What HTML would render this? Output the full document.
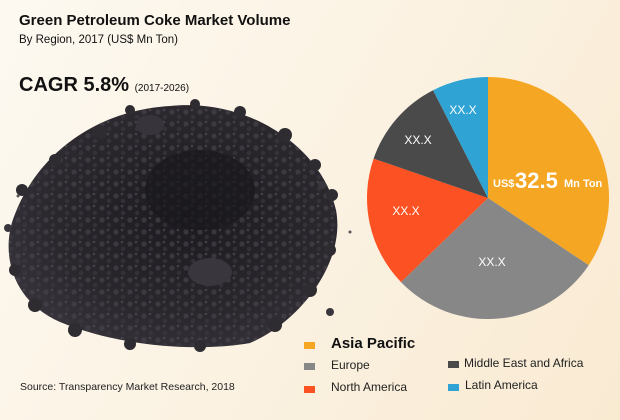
<!DOCTYPE html>
<html><head><meta charset="utf-8"><style>
html,body{margin:0;padding:0}
body{width:620px;height:420px;overflow:hidden;position:relative;font-family:"Liberation Sans",sans-serif;
background:linear-gradient(120deg,#fdf9f1 0%,#fbf2e2 50%,#f9ead2 100%);}
.t{position:absolute;white-space:nowrap;color:#111}
</style></head><body>
<svg width="620" height="420" style="position:absolute;left:0;top:0">
<defs>
<radialGradient id="cg" cx="0.55" cy="0.45" r="0.6">
<stop offset="0" stop-color="#1c1a1f"/><stop offset="0.7" stop-color="#2a272d"/><stop offset="1" stop-color="#36323a"/>
</radialGradient>
<pattern id="dots" width="14" height="12" patternUnits="userSpaceOnUse">
<circle cx="4" cy="4" r="2.6" fill="#4a464f"/><circle cx="11" cy="9" r="2.2" fill="#3e3a43"/><circle cx="10" cy="2" r="1.3" fill="#57535c"/>
</pattern>
</defs>
<path d="M170,106 C250,98 322,148 336,210 C346,262 300,322 250,343 C200,352 120,347 60,322 C10,300 0,250 15,214 C40,150 100,110 170,106 Z" fill="url(#cg)"/>
<path d="M170,106 C250,98 322,148 336,210 C346,262 300,322 250,343 C200,352 120,347 60,322 C10,300 0,250 15,214 C40,150 100,110 170,106 Z" fill="url(#dots)" opacity="0.6"/>
<ellipse cx="200" cy="190" rx="55" ry="40" fill="#1a181c" opacity="0.7"/>
<ellipse cx="210" cy="272" rx="22" ry="14" fill="#3a363d"/>
<ellipse cx="150" cy="125" rx="14" ry="10" fill="#38343b"/>
<g fill="#2e2b31">
<circle cx="100" cy="132" r="7"/><circle cx="240" cy="112" r="6"/><circle cx="285" cy="135" r="7"/><circle cx="315" cy="165" r="6"/>
<circle cx="332" cy="195" r="6"/><circle cx="330" cy="250" r="6"/><circle cx="310" cy="290" r="7"/><circle cx="275" cy="325" r="7"/>
<circle cx="200" cy="346" r="6"/><circle cx="130" cy="344" r="6"/><circle cx="75" cy="330" r="7"/><circle cx="35" cy="305" r="7"/>
<circle cx="15" cy="270" r="6"/><circle cx="22" cy="190" r="6"/><circle cx="55" cy="160" r="6"/><circle cx="130" cy="110" r="5"/><circle cx="195" cy="104" r="5"/>
</g>
<circle cx="8" cy="228" r="4" fill="#3a363d"/><circle cx="18" cy="262" r="3" fill="#3a363d"/>
<circle cx="330" cy="312" r="4" fill="#3a363d"/><circle cx="322" cy="185" r="4" fill="#3a363d"/>
<circle cx="18" cy="196" r="1.5" fill="#555"/><circle cx="350" cy="232" r="1.5" fill="#555"/>
<path d="M488,198 L488,77 A121,121 0 0 1 588.7,265.2 Z" fill="#f5a623"/>
<path d="M488,198 L588.7,265.2 A121,121 0 0 1 401,282.1 Z" fill="#878787"/>
<path d="M488,198 L401,282.1 A121,121 0 0 1 373.6,158.6 Z" fill="#fc5122"/>
<path d="M488,198 L373.6,158.6 A121,121 0 0 1 433.1,90.2 Z" fill="#4a4a4a"/>
<path d="M488,198 L433.1,90.2 A121,121 0 0 1 488,77 Z" fill="#2fa3d4"/>
<g font-family="Liberation Sans,sans-serif" fill="#fff" font-size="12">
<text x="463" y="114" text-anchor="middle">XX.X</text>
<text x="418" y="144" text-anchor="middle">XX.X</text>
<text x="406" y="215" text-anchor="middle">XX.X</text>
<text x="492" y="266" text-anchor="middle">XX.X</text>
<text x="493" y="187" font-size="11" font-weight="bold">US$</text>
<text x="515" y="188" font-size="22" font-weight="bold">32.5</text>
<text x="564" y="187" font-size="11" font-weight="bold">Mn Ton</text>
</g>
<rect x="304" y="342" width="11" height="7" fill="#f5a623"/>
<rect x="304" y="363" width="11" height="7" fill="#878787"/>
<rect x="304" y="386" width="11" height="7" fill="#fc5122"/>
<rect x="448" y="361" width="11" height="7" fill="#4a4a4a"/>
<rect x="448" y="384" width="11" height="7" fill="#2fa3d4"/>
</svg>
<div class="t" style="left:19px;top:12px;font-size:15px;font-weight:bold">Green Petroleum Coke Market Volume</div>
<div class="t" style="left:19px;top:34px;font-size:11.5px">By Region, 2017 (US$ Mn Ton)</div>
<div class="t" style="left:19px;top:74px;font-size:20px;font-weight:bold">CAGR 5.8% <span style="font-size:10px;font-weight:normal">(2017-2026)</span></div>
<div class="t" style="left:331px;top:335px;font-size:15px;font-weight:bold">Asia Pacific</div>
<div class="t" style="left:331px;top:358px;font-size:12px;color:#222">Europe</div>
<div class="t" style="left:331px;top:380px;font-size:12px;color:#222">North America</div>
<div class="t" style="left:464px;top:356px;font-size:12px;color:#222">Middle East and Africa</div>
<div class="t" style="left:465px;top:378px;font-size:12px;color:#222">Latin America</div>
<div class="t" style="left:20px;top:381px;font-size:10.5px;color:#222">Source: Transparency Market Research, 2018</div>
</body></html>
